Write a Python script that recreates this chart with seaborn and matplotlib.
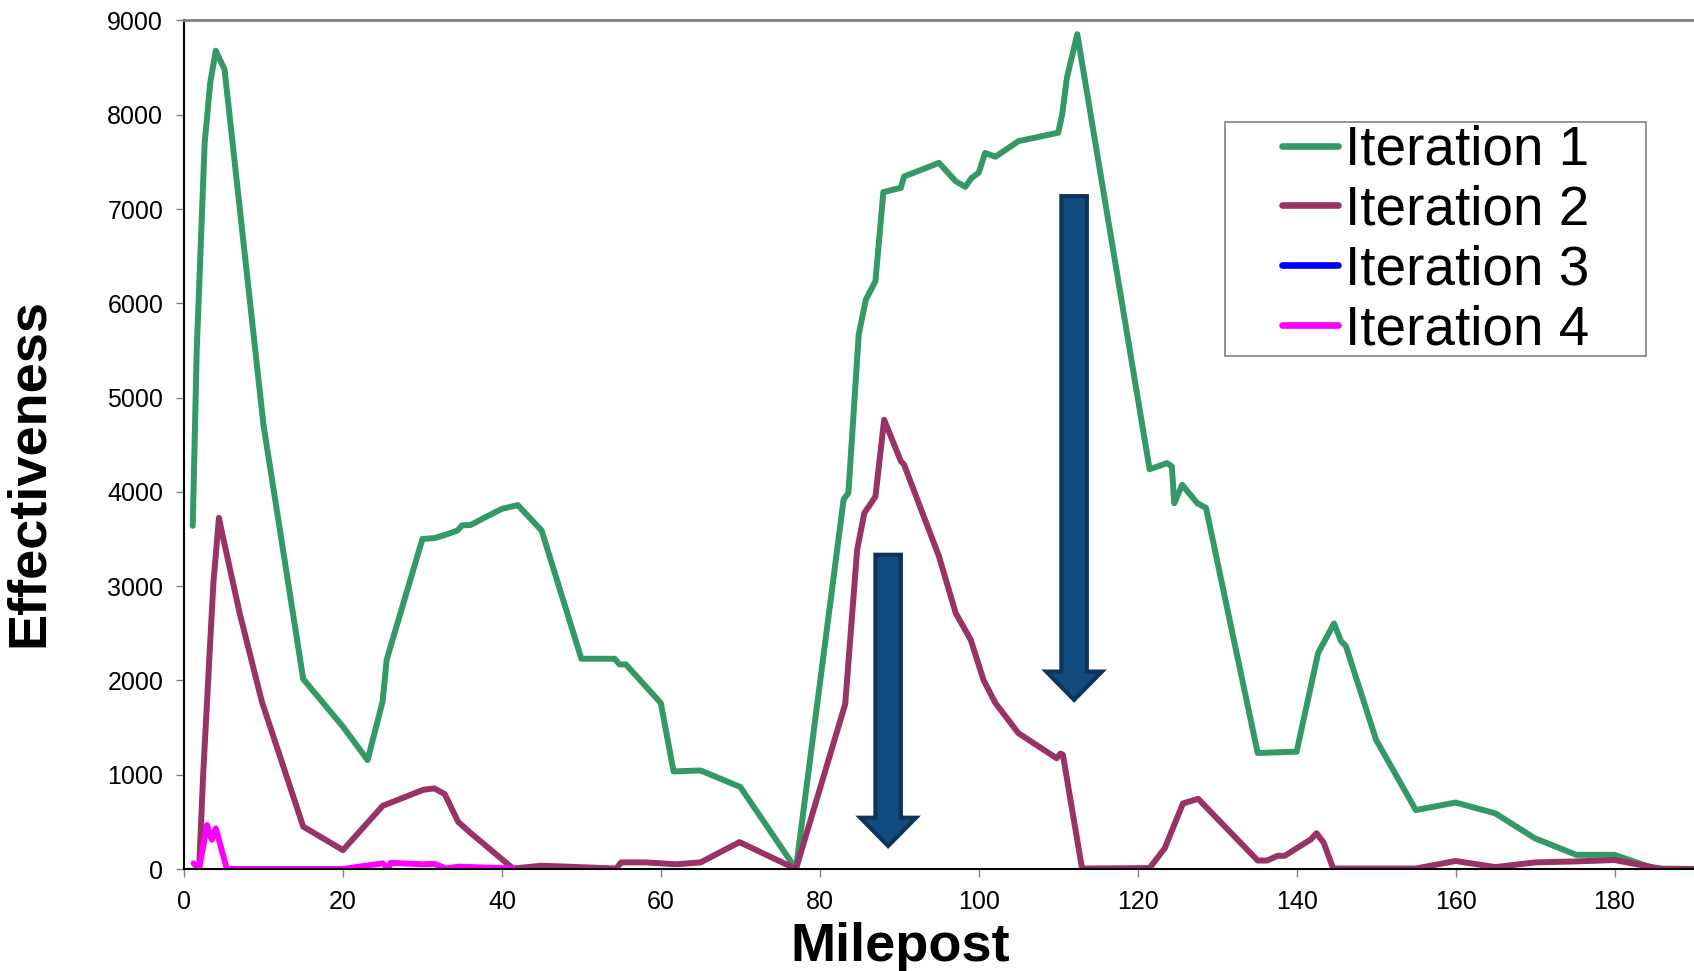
import matplotlib
matplotlib.use("Agg")
import matplotlib.pyplot as plt
import seaborn as sns
import pandas as pd
from matplotlib.patches import Rectangle

# data
mile_1 = [1.1, 1.6, 2.6, 3.3, 4.0, 5.1, 10.0, 15.0, 20.0, 23.1, 25.0, 25.5, 30.0, 31.5, 32.9,
          34.4, 35.0, 36.1, 38.0, 40.0, 42.0, 45.0, 50.0, 54.2, 54.8, 55.6, 60.0, 61.6, 65.0,
          70.0, 77.0, 83.0, 83.6, 84.9, 85.8, 87.0, 88.0, 90.2, 90.6, 95.0, 97.1, 98.3, 99.1,
          100.0, 100.8, 102.1, 105.0, 110.0, 110.5, 111.1, 112.4, 121.5, 123.7, 124.3, 124.6,
          125.6, 127.5, 128.6, 135.1, 140.0, 142.7, 144.7, 145.6, 146.2, 150.0, 155.0, 160.0,
          165.0, 170.0, 175.2, 180.0, 185.0, 190.0]
iter_1 = [3640, 5500, 7700, 8340, 8680, 8480, 4710, 2015, 1510, 1155, 1780, 2220, 3500, 3510, 3545,
          3590, 3645, 3650, 3735, 3820, 3860, 3590, 2230, 2230, 2170, 2170, 1760, 1035, 1045,
          870, 0, 3920, 3990, 5670, 6040, 6235, 7180, 7225, 7345, 7490, 7295, 7235, 7330,
          7385, 7595, 7555, 7720, 7810, 8005, 8395, 8855, 4240, 4305, 4270, 3880,
          4075, 3880, 3830, 1230, 1245, 2290, 2605, 2415, 2365, 1370, 625, 705,
          590, 325, 150, 150, 5, 0]

mile_2 = [1.9, 2.4, 3.2, 3.7, 4.4, 4.7, 7.0, 9.8, 15.0, 20.0, 25.0, 30.1, 31.5, 32.8, 34.5, 36.1,
          41.4, 45.0, 54.4, 55.0, 58.1, 61.9, 65.0, 69.9, 77.0, 83.2, 84.7, 85.6, 87.0, 88.1,
          90.2, 90.6, 95.0, 97.1, 99.0, 100.6, 102.1, 105.0, 109.8, 110.3, 110.6, 111.4, 113.0,
          121.5, 123.4, 125.7, 127.6, 135.1, 136.3, 137.6, 138.5, 141.8, 142.5, 143.4, 144.6,
          155.0, 160.0, 165.0, 170.0, 175.0, 180.0, 186.0, 190.0]
iter_2 = [0, 980, 2255, 3035, 3725, 3600, 2715, 1775, 450, 200, 670, 840, 855, 795, 500, 380,
          5, 35, 5, 70, 70, 50, 70, 285, 0, 1750, 3385, 3775, 3950, 4765,
          4325, 4290, 3315, 2715, 2430, 2005, 1760, 1440, 1175, 1225, 1210, 805, 5,
          10, 220, 695, 745, 90, 90, 140, 140, 315, 380, 280, 5,
          5, 85, 20, 70, 80, 95, 0, 0]

mile_3 = [5.4, 10.0, 15.0, 20.0]
iter_3 = [0, 0, 0, 0]

mile_4 = [1.2, 1.9, 2.9, 3.5, 4.0, 5.4, 20.0, 25.0, 25.7, 26.0, 30.1, 31.5, 33.0, 34.5, 41.4]
iter_4 = [60, 0, 465, 310, 430, 0, 0, 60, 5, 65, 50, 55, 5, 25, 5]

series_names = ["Iteration 1", "Iteration 2", "Iteration 3", "Iteration 4"]
series_colors = ["#339966", "#993366", "#0000ff", "#ff00ff"]

# arrows: (milepost, top value, tip value)
arrows = [(88.6, 3333, 244), (112.0, 7137, 1794)]

x_ticks = list(range(0, 181, 20))
y_ticks = list(range(0, 9001, 1000))

sns.set_theme(style="white")
plt.rcParams["font.family"] = ["Liberation Sans", "DejaVu Sans"]
plt.rcParams["lines.solid_joinstyle"] = "round"
plt.rcParams["lines.solid_capstyle"] = "round"
plt.rcParams["text.color"] = "black"

fig = plt.figure(figsize=(16.94, 9.71), dpi=100)
ax = fig.add_axes([184 / 1694, 1 - 869 / 971, 1 - 184 / 1694, (869 - 20.5) / 971])

all_x = [mile_1, mile_2, mile_3, mile_4]
all_y = [iter_1, iter_2, iter_3, iter_4]
for xs, ys, name, col in zip(all_x, all_y, series_names, series_colors):
    df = pd.DataFrame({"Milepost": xs, "Effectiveness": ys})
    sns.lineplot(data=df, x="Milepost", y="Effectiveness", ax=ax, color=col, lw=4.3,
                 sort=False, estimator=None, label=name)

for xc, top, tip in arrows:
    ax.arrow(xc, top, 0, tip - top, width=3.2, head_width=7.0, head_length=300,
             length_includes_head=True, facecolor="#124b7d", edgecolor="#0b355a",
             lw=3, joinstyle="miter", zorder=5)

ax.set_xlim(0, 190)
ax.set_ylim(0, 9000)
ax.set_xticks(x_ticks)
ax.set_yticks(y_ticks)
ax.set_xlabel("")
ax.set_ylabel("")
ax.tick_params(axis="both", direction="out", length=6, width=1, color="#808080",
               labelsize=18, pad=9, labelcolor="black", bottom=True, left=True)

for side in ["left", "bottom"]:
    ax.spines[side].set_color("black")
    ax.spines[side].set_linewidth(1.5)
ax.spines["top"].set_color("#808080")
ax.spines["top"].set_linewidth(2)
ax.spines["right"].set_visible(False)

# legend: text block plus a separate square frame
handles, labels = ax.get_legend_handles_labels()
leg = ax.legend(handles, labels, loc="upper left",
                bbox_to_anchor=((1282 - 184) / 1510, (869 - 125) / 848.5),
                borderaxespad=0, borderpad=0, frameon=False, fontsize=39.5,
                handlelength=1.02, handletextpad=0.13, labelspacing=0.14)
for ln in leg.get_lines():
    ln.set_linewidth(4.8)
for t in leg.get_texts():
    t.set_color("black")
ax.add_patch(Rectangle(((1225 - 184) / 1510, (869 - 356) / 848.5),
                       (1646 - 1225) / 1510, (356 - 122) / 848.5,
                       transform=ax.transAxes, fill=False, edgecolor="#808080",
                       lw=1.2, zorder=6))

fig.text(900.5 / 1694, 1 - 960.7 / 971, "Milepost", ha="center", va="baseline",
         fontsize=39, fontweight="bold", color="black")
fig.text(42.7 / 1694, 1 - 472.5 / 971, "Effectiveness", ha="center", va="baseline",
         rotation=90, rotation_mode="anchor", fontsize=39, fontweight="bold", color="black")

fig.savefig("out.png", dpi=100)
